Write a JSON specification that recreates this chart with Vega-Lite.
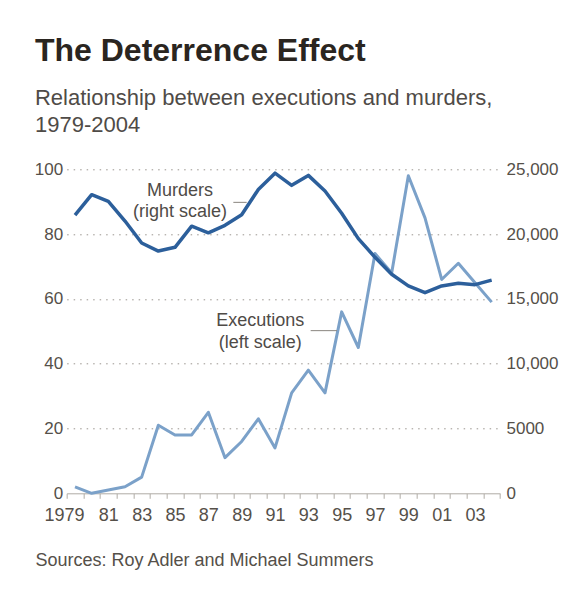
{
  "$schema": "https://vega.github.io/schema/vega-lite/v6.json",
  "width": 433.33,
  "height": 324,
  "autosize": {"type": "none"},
  "padding": {"left": 66.67, "top": 169.3, "right": 72, "bottom": 95.7},
  "background": "white",
  "config": {
    "font": "Liberation Sans",
    "view": {"stroke": null},
    "axisX": {"labelOverlap": false, "labelFlush": false, "labelBound": false}
  },
  "title": {
    "text": "The Deterrence Effect",
    "subtitle": ["Relationship between executions and murders,", "1979-2004"],
    "anchor": "start",
    "frame": "group",
    "dx": -31.7,
    "offset": 23,
    "font": "Liberation Sans",
    "fontSize": 32,
    "fontWeight": "bold",
    "color": "#2a2520",
    "subtitleFont": "Liberation Sans",
    "subtitleFontSize": 22,
    "subtitleColor": "#4f4b47",
    "subtitlePadding": 20,
    "subtitleLineHeight": 27
  },
  "datasets": {
    "series": [
      {"year": 1979, "executions": 2, "murders": 21460},
      {"year": 1980, "executions": 0, "murders": 23040},
      {"year": 1981, "executions": 1, "murders": 22520},
      {"year": 1982, "executions": 2, "murders": 21010},
      {"year": 1983, "executions": 5, "murders": 19310},
      {"year": 1984, "executions": 21, "murders": 18690},
      {"year": 1985, "executions": 18, "murders": 18980},
      {"year": 1986, "executions": 18, "murders": 20610},
      {"year": 1987, "executions": 25, "murders": 20100},
      {"year": 1988, "executions": 11, "murders": 20680},
      {"year": 1989, "executions": 16, "murders": 21500},
      {"year": 1990, "executions": 23, "murders": 23440},
      {"year": 1991, "executions": 14, "murders": 24700},
      {"year": 1992, "executions": 31, "murders": 23760},
      {"year": 1993, "executions": 38, "murders": 24530},
      {"year": 1994, "executions": 31, "murders": 23330},
      {"year": 1995, "executions": 56, "murders": 21610},
      {"year": 1996, "executions": 45, "murders": 19650},
      {"year": 1997, "executions": 74, "murders": 18210},
      {"year": 1998, "executions": 68, "murders": 16900},
      {"year": 1999, "executions": 98, "murders": 16000},
      {"year": 2000, "executions": 85, "murders": 15480},
      {"year": 2001, "executions": 66, "murders": 16000},
      {"year": 2002, "executions": 71, "murders": 16200},
      {"year": 2003, "executions": 65, "murders": 16100},
      {"year": 2004, "executions": 59, "murders": 16450}
    ],
    "notes": [
      {"label": "Murders", "year": 1985.3, "level": 91.9},
      {"label": "(right scale)", "year": 1985.3, "level": 85.4},
      {"label": "Executions", "year": 1990.12, "level": 51.5},
      {"label": "(left scale)", "year": 1990.12, "level": 44.8}
    ],
    "leaders": [
      {"from": 1988.5, "to": 1989.3, "level": 89.8},
      {"from": 1993.14, "to": 1994.72, "level": 50.2}
    ]
  },
  "layer": [
    {
      "data": {"name": "series"},
      "mark": {"type": "line", "color": "#7ba1c9", "strokeWidth": 3, "strokeJoin": "round"},
      "encoding": {
        "x": {
          "field": "year",
          "type": "quantitative",
          "scale": {"domain": [1978.5, 2004.5], "nice": false, "zero": false},
          "axis": {
            "orient": "bottom",
            "values": [1978.5, 1979.5, 1980.5, 1981.5, 1982.5, 1983.5, 1984.5, 1985.5, 1986.5, 1987.5, 1988.5, 1989.5, 1990.5, 1991.5, 1992.5, 1993.5, 1994.5, 1995.5, 1996.5, 1997.5, 1998.5, 1999.5, 2000.5, 2001.5, 2002.5, 2003.5, 2004.5],
            "labels": false,
            "tickSize": 5,
            "tickColor": "#b0aca6",
            "domainColor": "#b0aca6",
            "grid": false,
            "title": "Sources: Roy Adler and Michael Summers",
            "titleAnchor": "start",
            "titleAlign": "left",
            "titleX": -31.7,
            "titleY": 72,
            "titleBaseline": "alphabetic",
            "titleFont": "Liberation Sans",
            "titleFontSize": 18,
            "titleFontWeight": "normal",
            "titleColor": "#555049"
          }
        },
        "y": {
          "field": "executions",
          "type": "quantitative",
          "scale": {"domain": [0, 100], "nice": false},
          "axis": {
            "values": [0, 20, 40, 60, 80, 100],
            "grid": true,
            "gridDash": [1.5, 5],
            "gridColor": "#9a958f",
            "gridOpacity": {"condition": {"test": "datum.value == 0", "value": 0}, "value": 1},
            "domain": false,
            "ticks": false,
            "labelPadding": 4,
            "labelFont": "Liberation Sans",
            "labelFontSize": 17,
            "labelColor": "#555049",
            "title": null
          }
        }
      }
    },
    {
      "data": {"name": "series"},
      "mark": {"type": "line", "color": "#2c5f9b", "strokeWidth": 3.5, "strokeJoin": "round"},
      "encoding": {
        "x": {
          "field": "year",
          "type": "quantitative",
          "axis": {
            "orient": "bottom",
            "values": [1979, 1981, 1983, 1985, 1987, 1989, 1991, 1993, 1995, 1997, 1999, 2001, 2003],
            "labelExpr": "datum.value == 1979 ? '1979' : slice('0' + (datum.value % 100), -2)",
            "labelOffset": {"condition": {"test": "datum.value == 1979", "value": -11}, "value": 0},
            "labelFont": "Liberation Sans",
            "labelFontSize": 18,
            "labelColor": "#555049",
            "labelPadding": 13,
            "tickSize": 0,
            "ticks": false,
            "domain": false,
            "grid": false,
            "title": null
          }
        },
        "y": {
          "field": "murders",
          "type": "quantitative",
          "scale": {"domain": [0, 25000], "nice": false},
          "axis": {
            "orient": "right",
            "values": [0, 5000, 10000, 15000, 20000, 25000],
            "labelExpr": "datum.value == 5000 ? '5000' : format(datum.value, ',')",
            "grid": false,
            "domain": false,
            "ticks": false,
            "labelPadding": 6,
            "labelFont": "Liberation Sans",
            "labelFontSize": 17,
            "labelColor": "#555049",
            "title": null
          }
        }
      }
    },
    {
      "data": {"name": "leaders"},
      "mark": {"type": "rule", "color": "#8a857f", "strokeWidth": 1},
      "encoding": {
        "x": {"field": "from", "type": "quantitative", "axis": null},
        "x2": {"field": "to"},
        "y": {"field": "level", "type": "quantitative", "scale": {"domain": [0, 100], "nice": false}, "axis": null}
      }
    },
    {
      "data": {"name": "notes"},
      "mark": {"type": "text", "align": "center", "baseline": "alphabetic", "font": "Liberation Sans", "fontSize": 18, "color": "#4f4b47"},
      "encoding": {
        "x": {"field": "year", "type": "quantitative", "axis": null},
        "y": {"field": "level", "type": "quantitative", "scale": {"domain": [0, 100], "nice": false}, "axis": null},
        "text": {"field": "label"}
      }
    }
  ],
  "resolve": {"scale": {"y": "independent"}, "axis": {"x": "independent"}}
}
